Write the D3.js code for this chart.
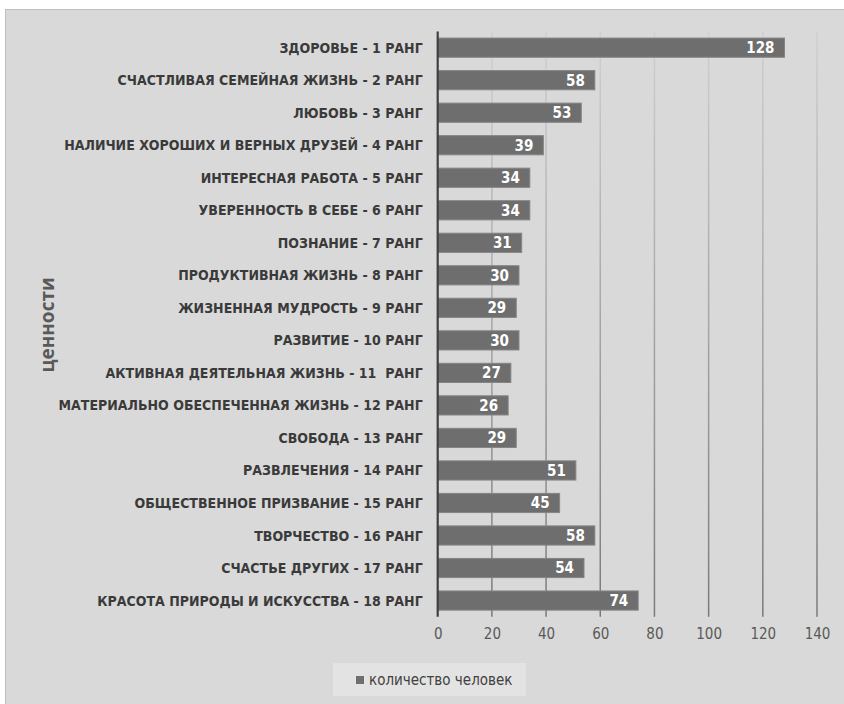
<!DOCTYPE html>
<html>
<head>
<meta charset="utf-8">
<script src="https://cdn.jsdelivr.net/npm/d3@7/dist/d3.min.js"></script>
<style>
  html, body { margin: 0; padding: 0; background: #ffffff; }
  svg { display: block; }
  text { white-space: pre; }
</style>
</head>
<body>
<svg id="chart" width="844" height="704"></svg>
<script>
// Ценности и количество выбравших их человек
const categories = [
  "ЗДОРОВЬЕ - 1 РАНГ",
  "СЧАСТЛИВАЯ СЕМЕЙНАЯ ЖИЗНЬ - 2 РАНГ",
  "ЛЮБОВЬ - 3 РАНГ",
  "НАЛИЧИЕ ХОРОШИХ И ВЕРНЫХ ДРУЗЕЙ - 4 РАНГ",
  "ИНТЕРЕСНАЯ РАБОТА - 5 РАНГ",
  "УВЕРЕННОСТЬ В СЕБЕ - 6 РАНГ",
  "ПОЗНАНИЕ - 7 РАНГ",
  "ПРОДУКТИВНАЯ ЖИЗНЬ - 8 РАНГ",
  "ЖИЗНЕННАЯ МУДРОСТЬ - 9 РАНГ",
  "РАЗВИТИЕ - 10 РАНГ",
  "АКТИВНАЯ ДЕЯТЕЛЬНАЯ ЖИЗНЬ - 11  РАНГ",
  "МАТЕРИАЛЬНО ОБЕСПЕЧЕННАЯ ЖИЗНЬ - 12 РАНГ",
  "СВОБОДА - 13 РАНГ",
  "РАЗВЛЕЧЕНИЯ - 14 РАНГ",
  "ОБЩЕСТВЕННОЕ ПРИЗВАНИЕ - 15 РАНГ",
  "ТВОРЧЕСТВО - 16 РАНГ",
  "СЧАСТЬЕ ДРУГИХ - 17 РАНГ",
  "КРАСОТА ПРИРОДЫ И ИСКУССТВА - 18 РАНГ"
];
const peopleCount = [128, 58, 53, 39, 34, 34, 31, 30, 29, 30, 27, 26, 29, 51, 45, 58, 54, 74];
const xTicks = [0, 20, 40, 60, 80, 100, 120, 140];
const seriesName = "количество человек";
const axisTitle = "ценности";

const svg = d3.select("#chart");
const labelFont = "'Liberation Sans Narrow', 'DejaVu Sans Condensed', 'Roboto', sans-serif";

// chart area background with a thin border
svg.append("rect")
  .attr("x", 5.5).attr("y", 9.5)
  .attr("width", 850).attr("height", 710)
  .attr("fill", "#d9d9d9")
  .attr("stroke", "#bfbfbf")
  .attr("stroke-width", 1);

const x = d3.scaleLinear().domain([0, 140]).range([437.7, 817]);
const y = d3.scaleBand().domain(categories).range([31.4, 616.8]).paddingInner(0.41).paddingOuter(0.205);

// gridlines fade from light at the top to darker at the bottom
const defs = svg.append("defs");
const grad = defs.append("linearGradient")
  .attr("id", "gridFade")
  .attr("gradientUnits", "userSpaceOnUse")
  .attr("x1", 0).attr("y1", 31.4).attr("x2", 0).attr("y2", 616.8);
grad.append("stop").attr("offset", "0%").attr("stop-color", "#d0d0d0");
grad.append("stop").attr("offset", "100%").attr("stop-color", "#7a7a7a");

const xAxis = d3.axisBottom(x).tickValues(xTicks).tickSize(0).tickPadding(12);
const gx = svg.append("g")
  .attr("transform", `translate(0,${y.range()[1]})`)
  .call(xAxis);
gx.select(".domain").remove();
gx.selectAll("text")
  .attr("fill", "#595959")
  .style("font-family", labelFont)
  .style("font-size", "15px");

svg.append("g")
  .selectAll("rect")
  .data(xTicks.filter(t => t > 0))
  .join("rect")
  .attr("x", d => x(d) - 0.75)
  .attr("y", y.range()[0])
  .attr("width", 1.5)
  .attr("height", y.range()[1] - y.range()[0])
  .attr("fill", "url(#gridFade)");

// bars
svg.append("g")
  .selectAll("rect")
  .data(peopleCount)
  .join("rect")
  .attr("x", x(0))
  .attr("y", (d, i) => y(categories[i]))
  .attr("width", d => x(d) - x(0))
  .attr("height", y.bandwidth())
  .attr("fill", "#6e6e6e")
  .attr("stroke", "#858585")
  .attr("stroke-width", 1);

// value labels inside the bar ends
svg.append("g")
  .selectAll("text")
  .data(peopleCount)
  .join("text")
  .attr("x", d => x(d) - 10)
  .attr("y", (d, i) => y(categories[i]) + y.bandwidth() / 2)
  .attr("dy", "0.36em")
  .attr("text-anchor", "end")
  .attr("fill", "#ffffff")
  .style("font-family", labelFont)
  .style("font-weight", "bold")
  .style("font-size", "15px")
  .text(d => d);

// vertical category axis line
svg.append("line")
  .attr("x1", x(0)).attr("x2", x(0))
  .attr("y1", y.range()[0]).attr("y2", y.range()[1])
  .attr("stroke", "#404040")
  .attr("stroke-width", 2.2);

// category labels
svg.append("g")
  .selectAll("text")
  .data(categories)
  .join("text")
  .attr("x", x(0) - 15)
  .attr("y", d => y(d) + y.bandwidth() / 2)
  .attr("dy", "0.36em")
  .attr("text-anchor", "end")
  .attr("fill", "#3a3a3a")
  .style("font-family", labelFont)
  .style("font-weight", "bold")
  .style("font-size", "14px")
  .text(d => d);

// axis title
svg.append("text")
  .attr("transform", "translate(47,325) rotate(-90)")
  .attr("dy", "0.36em")
  .attr("text-anchor", "middle")
  .attr("fill", "#595959")
  .style("font-family", "'Open Sans', 'DejaVu Sans', sans-serif")
  .style("font-weight", "bold")
  .style("font-size", "19px")
  .text(axisTitle);

// legend
const legend = svg.append("g");
legend.append("rect")
  .attr("x", 333).attr("y", 663)
  .attr("width", 193).attr("height", 33)
  .attr("fill", "#e3e3e3");
legend.append("rect")
  .attr("x", 356).attr("y", 676)
  .attr("width", 8).attr("height", 8)
  .attr("fill", "#6e6e6e");
legend.append("text")
  .attr("x", 369).attr("y", 680)
  .attr("dy", "0.36em")
  .attr("fill", "#404040")
  .style("font-family", labelFont)
  .style("font-size", "15px")
  .text(seriesName);
</script>
</body>
</html>
